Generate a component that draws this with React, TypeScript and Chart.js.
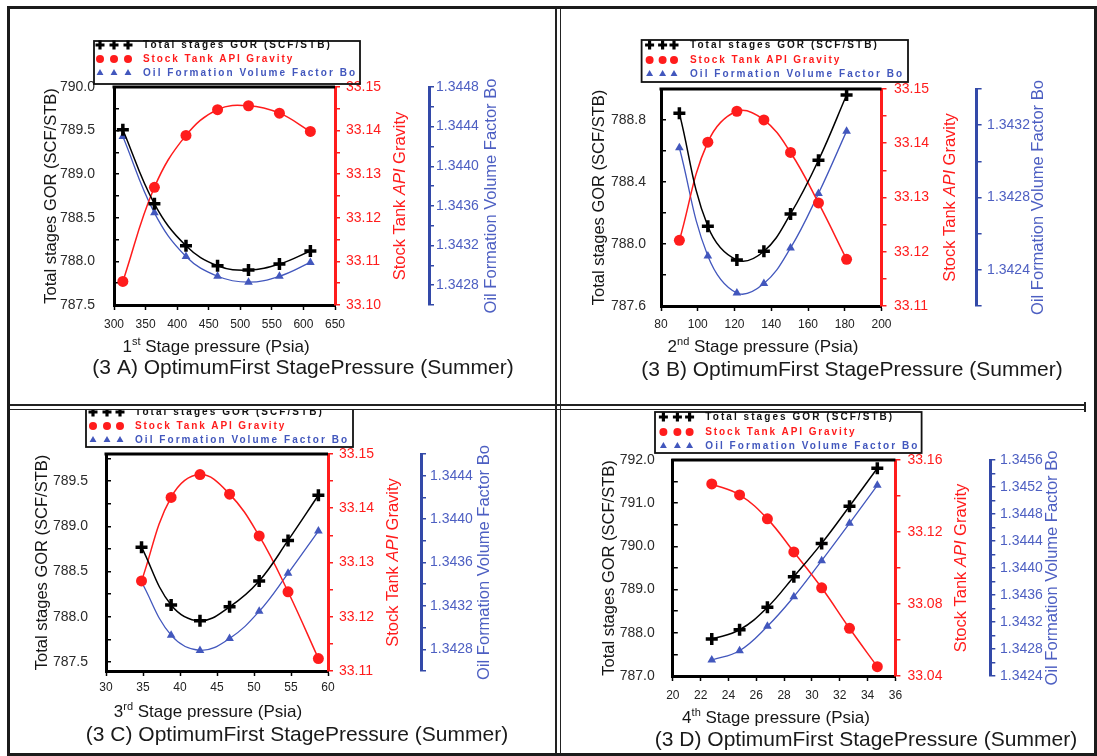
import React, { useEffect, useRef } from 'react';
import { Chart, registerables } from 'chart.js';

Chart.register(...registerables);

const FONT = "'Liberation Sans', Arial, Helvetica, sans-serif";
const INK = '#161616';
const RED = '#ff1c1c';
const BLUE = '#3349a8';
const BLUE_LINE = '#4257bd';
const BLUE_TEXT = '#4d5fc2';

const SERIES_NAMES = ['Total stages GOR (SCF/STB)', 'Stock Tank API Gravity', 'Oil Formation Volume Factor Bo'];

// ---------- Panel A : 1st stage ----------
const A_PRESSURE = [314, 364, 414, 464, 513, 562, 611];
const A_GOR = [789.51, 788.66, 788.18, 787.95, 787.9, 787.97, 788.12];
const A_API = [33.1054, 33.127, 33.1389, 33.1448, 33.1457, 33.144, 33.1398];
const A_BO = [1.3443, 1.34353, 1.34309, 1.34289, 1.34283, 1.34289, 1.34303];
const A_X_TICKS = ['300', '350', '400', '450', '500', '550', '600', '650'];
const A_GOR_TICKS = ['787.5', '788.0', '788.5', '789.0', '789.5', '790.0'];
const A_API_TICKS = ['33.10', '33.11', '33.12', '33.13', '33.14', '33.15'];
const A_BO_TICKS = ['1.3428', '1.3432', '1.3436', '1.3440', '1.3444', '1.3448'];

// ---------- Panel B : 2nd stage ----------
const B_PRESSURE = [90, 105.5, 121.3, 136, 150.5, 165.7, 181];
const B_GOR = [788.843, 788.114, 787.897, 787.953, 788.194, 788.54, 788.961];
const B_API = [33.1221, 33.1402, 33.1459, 33.1443, 33.1383, 33.129, 33.1186];
const B_BO = [1.343075, 1.342477, 1.342272, 1.342324, 1.342521, 1.342822, 1.343167];
const B_X_TICKS = ['80', '100', '120', '140', '160', '180', '200'];
const B_GOR_TICKS = ['787.6', '788.0', '788.4', '788.8'];
const B_API_TICKS = ['33.11', '33.12', '33.13', '33.14', '33.15'];
const B_BO_TICKS = ['1.3424', '1.3428', '1.3432'];

// ---------- Panel C : 3rd stage ----------
const C_PRESSURE = [34.8, 38.8, 42.7, 46.7, 50.7, 54.6, 58.7];
const C_GOR = [788.77, 788.13, 787.955, 788.11, 788.396, 788.844, 789.344];
const C_API = [33.1266, 33.142, 33.1462, 33.1426, 33.1349, 33.1246, 33.1123];
const C_BO = [1.34342, 1.34293, 1.34279, 1.3429, 1.34315, 1.3435, 1.34389];
const C_X_TICKS = ['30', '35', '40', '45', '50', '55', '60'];
const C_GOR_TICKS = ['787.5', '788.0', '788.5', '789.0', '789.5'];
const C_API_TICKS = ['33.11', '33.12', '33.13', '33.14', '33.15'];
const C_BO_TICKS = ['1.3428', '1.3432', '1.3436', '1.3440', '1.3444'];

// ---------- Panel D : 4th stage ----------
const D_PRESSURE = [22.8, 24.8, 26.8, 28.7, 30.7, 32.7, 34.7];
const D_GOR = [787.854, 788.07, 788.59, 789.3, 790.07, 790.93, 791.81];
const D_API = [33.1467, 33.1406, 33.1273, 33.1089, 33.089, 33.0665, 33.0452];
const D_BO = [1.342637, 1.342775, 1.343136, 1.343575, 1.344109, 1.344662, 1.345225];
const D_X_TICKS = ['20', '22', '24', '26', '28', '30', '32', '34', '36'];
const D_GOR_TICKS = ['787.0', '788.0', '789.0', '790.0', '791.0', '792.0'];
const D_API_TICKS = ['33.04', '33.08', '33.12', '33.16'];
const D_BO_TICKS = ['1.3424', '1.3428', '1.3432', '1.3436', '1.3440', '1.3444', '1.3448', '1.3452', '1.3456'];

const PANELS = [
  {
    key: 'A', left: 10, top: 9, w: 546, h: 396,
    plot: { l: 104, r: 325, t: 78, b: 296 }, blueX: 419,
    xs: A_PRESSURE, gor: A_GOR, api: A_API, bo: A_BO,
    x: { min: 300, max: 650, ticks: A_X_TICKS },
    g: { min: 787.5, max: 790.0, ticks: A_GOR_TICKS },
    a: { min: 33.1, max: 33.15, ticks: A_API_TICKS },
    o: { min: 1.3426, max: 1.3448, ticks: A_BO_TICKS },
    gaps: { left: 19, red: 11, blue: 7, x: 20 },
    titles: { left: 41, red: 390, blue: 481 },
    xTitle: { cx: 206, cy: 337, ord: '1', sup: 'st' },
    caption: { cx: 293, cy: 359, text: '(3 A) OptimumFirst StagePressure (Summer)' },
    legend: { x: 84, y: 32, w: 266, h: 43, rows: [36, 50, 64], marks: [90, 104, 118], textX: 133 },
  },
  {
    key: 'B', left: 561, top: 9, w: 533, h: 396,
    plot: { l: 100, r: 320.5, t: 80, b: 297 }, blueX: 415.6,
    xs: B_PRESSURE, gor: B_GOR, api: B_API, bo: B_BO,
    x: { min: 80, max: 200, ticks: B_X_TICKS },
    g: { min: 787.6, max: 789.0, ticks: B_GOR_TICKS },
    a: { min: 33.11, max: 33.15, ticks: B_API_TICKS },
    o: { min: 1.3422, max: 1.3434, ticks: B_BO_TICKS },
    gaps: { left: 15, red: 12.5, blue: 10.5, x: 19 },
    titles: { left: 38, red: 389, blue: 477 },
    xTitle: { cx: 202, cy: 337, ord: '2', sup: 'nd' },
    caption: { cx: 291, cy: 361, text: '(3 B) OptimumFirst StagePressure (Summer)' },
    legend: { x: 80.6, y: 31, w: 266.4, h: 42, rows: [36, 51, 65], marks: [88.6, 101.6, 113], textX: 129 },
  },
  {
    key: 'C', left: 10, top: 410, w: 546, h: 344,
    plot: { l: 96, r: 318, t: 44, b: 261 }, blueX: 411,
    xs: C_PRESSURE, gor: C_GOR, api: C_API, bo: C_BO,
    x: { min: 30, max: 60, ticks: C_X_TICKS },
    g: { min: 787.4, max: 789.8, ticks: C_GOR_TICKS },
    a: { min: 33.11, max: 33.15, ticks: C_API_TICKS },
    o: { min: 1.3426, max: 1.3446, ticks: C_BO_TICKS },
    gaps: { left: 18, red: 11, blue: 9, x: 17 },
    titles: { left: 32, red: 383, blue: 474 },
    xTitle: { cx: 198, cy: 301, ord: '3', sup: 'rd' },
    caption: { cx: 287, cy: 325, text: '(3 C) OptimumFirst StagePressure (Summer)' },
    legend: { x: 76, y: -5, w: 267, h: 42, rows: [2, 16, 30], marks: [83, 97, 110], textX: 125 },
  },
  {
    key: 'D', left: 561, top: 410, w: 533, h: 344,
    plot: { l: 111.8, r: 334.4, t: 50, b: 266 }, blueX: 429.3,
    xs: D_PRESSURE, gor: D_GOR, api: D_API, bo: D_BO,
    x: { min: 20, max: 36, ticks: D_X_TICKS },
    g: { min: 787.0, max: 792.0, ticks: D_GOR_TICKS },
    a: { min: 33.04, max: 33.16, ticks: D_API_TICKS },
    o: { min: 1.3424, max: 1.3456, ticks: D_BO_TICKS },
    gaps: { left: 18, red: 12, blue: 9.7, x: 20 },
    titles: { left: 48, red: 400.7, blue: 491 },
    xTitle: { cx: 215, cy: 307, ord: '4', sup: 'th' },
    caption: { cx: 305, cy: 330, text: '(3 D) OptimumFirst StagePressure (Summer)' },
    legend: { x: 94, y: 2, w: 266.6, h: 41, rows: [7, 22, 36], marks: [102.4, 116.4, 128.6], textX: 144.3 },
  },
];

const LEGEND_TEXT_WIDTHS = [189, 151, 214];

function tickValues(labels: string[], min: number, max: number, minor: boolean): number[] {
  const major = labels.map((l) => parseFloat(l));
  if (!minor) return major;
  const half = (major[1] - major[0]) / 2;
  const eps = half * 1e-3;
  let v = major[0];
  while (v - half >= min - eps) v -= half;
  const out: number[] = [];
  for (; v <= max + eps; v += half) out.push(+v.toFixed(8));
  return out;
}

function labelFor(labels: string[]) {
  return (value: number) => {
    const f = labels.find((l) => Math.abs(parseFloat(l) - value) < 1e-7);
    return f === undefined ? '' : f;
  };
}

function drawMarker(ctx: CanvasRenderingContext2D, kind: number, x: number, y: number, r: number) {
  ctx.save();
  if (kind === 0) {
    ctx.strokeStyle = '#000';
    ctx.lineWidth = r * 0.7;
    ctx.beginPath();
    ctx.moveTo(x - r, y); ctx.lineTo(x + r, y);
    ctx.moveTo(x, y - r); ctx.lineTo(x, y + r);
    ctx.stroke();
  } else if (kind === 1) {
    ctx.fillStyle = RED;
    ctx.beginPath();
    ctx.arc(x, y, r, 0, Math.PI * 2);
    ctx.fill();
  } else {
    ctx.fillStyle = BLUE_LINE;
    ctx.beginPath();
    for (let k = 0; k < 3; k++) {
      const a = (k * 2 * Math.PI) / 3;
      const px = x + Math.sin(a) * r;
      const py = y - Math.cos(a) * r;
      if (k === 0) ctx.moveTo(px, py); else ctx.lineTo(px, py);
    }
    ctx.closePath();
    ctx.fill();
  }
  ctx.restore();
}

function rotatedSegments(ctx: CanvasRenderingContext2D, x: number, cy: number, segs: { t: string; f: string }[], color: string) {
  ctx.save();
  ctx.translate(x, cy);
  ctx.rotate(-Math.PI / 2);
  ctx.fillStyle = color;
  ctx.textBaseline = 'middle';
  ctx.textAlign = 'left';
  let total = 0;
  segs.forEach((s) => { ctx.font = s.f; total += ctx.measureText(s.t).width; });
  let px = -total / 2;
  segs.forEach((s) => { ctx.font = s.f; ctx.fillText(s.t, px, 0); px += ctx.measureText(s.t).width; });
  ctx.restore();
}

function overlayPlugin(s: any) {
  return {
    id: 'overlay' + s.key,
    beforeDatasetsDraw(chart: any) {
      const ctx = chart.ctx;
      const ca = chart.chartArea;
      ctx.save();
      ctx.strokeStyle = '#000';
      ctx.lineWidth = 3;
      ctx.beginPath();
      ctx.moveTo(ca.left - 1.5, ca.top);
      ctx.lineTo(ca.right, ca.top);
      ctx.stroke();
      ctx.restore();
    },
    afterDraw(chart: any) {
      const ctx: CanvasRenderingContext2D = chart.ctx;
      const ca = chart.chartArea;
      const cy = (ca.top + ca.bottom) / 2;
      const tf = `16.5px ${FONT}`;
      rotatedSegments(ctx, s.titles.left, cy, [{ t: SERIES_NAMES[0], f: tf }], INK);
      rotatedSegments(ctx, s.titles.red, cy, [
        { t: 'Stock Tank ', f: tf },
        { t: 'API', f: `italic 16.5px ${FONT}` },
        { t: ' Gravity', f: tf },
      ], RED);
      rotatedSegments(ctx, s.titles.blue, cy, [{ t: SERIES_NAMES[2], f: tf }], BLUE_TEXT);

      // x title with superscript ordinal
      ctx.save();
      ctx.fillStyle = INK;
      ctx.textBaseline = 'alphabetic';
      ctx.textAlign = 'left';
      const big = `17px ${FONT}`;
      const small = `11px ${FONT}`;
      const rest = ' Stage pressure (Psia)';
      ctx.font = big;
      const w1 = ctx.measureText(s.xTitle.ord).width;
      const w3 = ctx.measureText(rest).width;
      ctx.font = small;
      const w2 = ctx.measureText(s.xTitle.sup).width;
      let x = s.xTitle.cx - (w1 + w2 + w3) / 2;
      const base = s.xTitle.cy + 6;
      ctx.font = big; ctx.fillText(s.xTitle.ord, x, base); x += w1;
      ctx.font = small; ctx.fillText(s.xTitle.sup, x, base - 7); x += w2;
      ctx.font = big; ctx.fillText(rest, x, base);
      // caption
      ctx.font = `21px ${FONT}`;
      ctx.textAlign = 'center';
      ctx.textBaseline = 'middle';
      ctx.fillStyle = '#1a1a1a';
      ctx.fillText(s.caption.text, s.caption.cx, s.caption.cy);
      ctx.restore();

      // legend
      const L = s.legend;
      ctx.save();
      ctx.strokeStyle = '#111';
      ctx.lineWidth = 1.8;
      ctx.strokeRect(L.x, L.y, L.w, L.h);
      const colors = ['#111', RED, BLUE_LINE];
      const sizes = [4.5, 4, 4];
      for (let i = 0; i < 3; i++) {
        L.marks.forEach((mx: number) => drawMarker(ctx, i, mx, L.rows[i], sizes[i]));
        ctx.font = `bold 10px ${FONT}`;
        (ctx as any).letterSpacing = '0px';
        const w = ctx.measureText(SERIES_NAMES[i]).width;
        const ls = (LEGEND_TEXT_WIDTHS[i] - w) / SERIES_NAMES[i].length;
        (ctx as any).letterSpacing = `${ls.toFixed(2)}px`;
        ctx.fillStyle = colors[i];
        ctx.textAlign = 'left';
        ctx.textBaseline = 'middle';
        ctx.fillText(SERIES_NAMES[i], L.textX, L.rows[i]);
        (ctx as any).letterSpacing = '0px';
      }
      ctx.restore();
    },
  };
}

function yAxis(opts: any) {
  const vals = tickValues(opts.ticks, opts.min, opts.max, true);
  return {
    type: 'linear',
    position: opts.position,
    weight: opts.weight,
    min: opts.min,
    max: opts.max,
    bounds: 'data',
    afterBuildTicks: (sc: any) => { sc.ticks = vals.map((v) => ({ value: v })); },
    afterFit: (sc: any) => { sc.width = opts.width; },
    grid: {
      display: true, drawOnChartArea: false, drawTicks: true,
      tickLength: opts.tickLength, color: opts.color, tickColor: opts.color, tickWidth: 1.5, lineWidth: 1.5,
    },
    border: { display: true, color: opts.color, width: 3 },
    ticks: {
      color: opts.textColor, font: { family: FONT, size: 14 }, padding: opts.gap - opts.tickLength,
      callback: labelFor(opts.ticks), autoSkip: false, maxRotation: 0,
    },
  };
}

function Panel({ spec }: { spec: any }) {
  const ref = useRef<HTMLCanvasElement>(null);
  useEffect(() => {
    const s = spec;
    const canvas = ref.current;
    if (!canvas) return;
    const xAxisH = 40;
    const xVals = tickValues(s.x.ticks, s.x.min, s.x.max, false);
    const pts = (ys: number[]) => s.xs.map((x: number, i: number) => ({ x, y: ys[i] }));
    const chart = new Chart(canvas, {
      type: 'line',
      data: {
        datasets: [
          {
            label: SERIES_NAMES[0], data: pts(s.gor), yAxisID: 'y',
            borderColor: '#000', backgroundColor: '#000', borderWidth: 1.5,
            pointStyle: 'cross', pointRadius: 6, pointBorderWidth: 3.5, pointBorderColor: '#000',
            tension: 0.4, clip: false,
          },
          {
            label: SERIES_NAMES[1], data: pts(s.api), yAxisID: 'y1',
            borderColor: RED, backgroundColor: RED, borderWidth: 1.5,
            pointStyle: 'circle', pointRadius: 5.5, pointBorderWidth: 0, pointBackgroundColor: RED,
            tension: 0.4, clip: false,
          },
          {
            label: SERIES_NAMES[2], data: pts(s.bo), yAxisID: 'y2',
            borderColor: BLUE_LINE, backgroundColor: BLUE_LINE, borderWidth: 1.3,
            pointStyle: 'triangle', pointRadius: 5, pointBorderWidth: 0, pointBackgroundColor: BLUE_LINE,
            tension: 0.4, clip: false,
          },
        ],
      } as any,
      options: {
        responsive: false,
        animation: false,
        devicePixelRatio: 1,
        events: [],
        layout: { padding: { top: s.plot.t, left: 0, right: 0, bottom: s.h - s.plot.b - xAxisH } },
        plugins: { legend: { display: false }, tooltip: { enabled: false }, title: { display: false } },
        scales: {
          x: {
            type: 'linear', position: 'bottom', min: s.x.min, max: s.x.max, bounds: 'data',
            afterBuildTicks: (sc: any) => { sc.ticks = xVals.map((v) => ({ value: v })); },
            afterFit: (sc: any) => { sc.height = xAxisH; },
            grid: { display: true, drawOnChartArea: false, drawTicks: true, tickLength: 5, color: '#000', tickColor: '#000', tickWidth: 1.5 },
            border: { display: true, color: '#000', width: 3 },
            ticks: {
              color: '#222', font: { family: FONT, size: 12 }, padding: s.gaps.x - 5 - 7.2,
              callback: labelFor(s.x.ticks), autoSkip: false, maxRotation: 0,
            },
          },
          y: yAxis({ ...s.g, position: 'left', weight: 0, width: s.plot.l, tickLength: -5, color: '#000', textColor: '#2a2a2a', gap: s.gaps.left }),
          y1: yAxis({ ...s.a, position: 'right', weight: 0, width: s.blueX - s.plot.r, tickLength: 5, color: RED, textColor: RED, gap: s.gaps.red }),
          y2: yAxis({ ...s.o, position: 'right', weight: 1, width: s.w - s.blueX, tickLength: 5, color: BLUE, textColor: BLUE_TEXT, gap: s.gaps.blue }),
        },
      } as any,
      plugins: [overlayPlugin(s)],
    });
    return () => chart.destroy();
  }, [spec]);
  return (
    <canvas
      ref={ref}
      width={spec.w}
      height={spec.h}
      style={{ position: 'absolute', left: spec.left, top: spec.top, width: spec.w, height: spec.h }}
    />
  );
}

export default function App() {
  const line = '#222';
  return (
    <div style={{ position: 'absolute', left: 0, top: 0, width: 1097, height: 756, background: '#fff', overflow: 'hidden' }}>
      {PANELS.map((p) => <Panel key={p.key} spec={p} />)}
      <div style={{ position: 'absolute', left: 7, top: 6, width: 1090, height: 750, border: '3px solid #1b1b1b', boxSizing: 'border-box' }} />
      <div style={{ position: 'absolute', left: 555, top: 9, width: 1.5, height: 744, background: line }} />
      <div style={{ position: 'absolute', left: 559.5, top: 9, width: 1.5, height: 744, background: line }} />
      <div style={{ position: 'absolute', left: 10, top: 404, width: 1075, height: 1.5, background: line }} />
      <div style={{ position: 'absolute', left: 10, top: 408.5, width: 1075, height: 1.5, background: line }} />
      <div style={{ position: 'absolute', left: 1084, top: 402, width: 1.5, height: 10, background: line }} />
    </div>
  );
}
